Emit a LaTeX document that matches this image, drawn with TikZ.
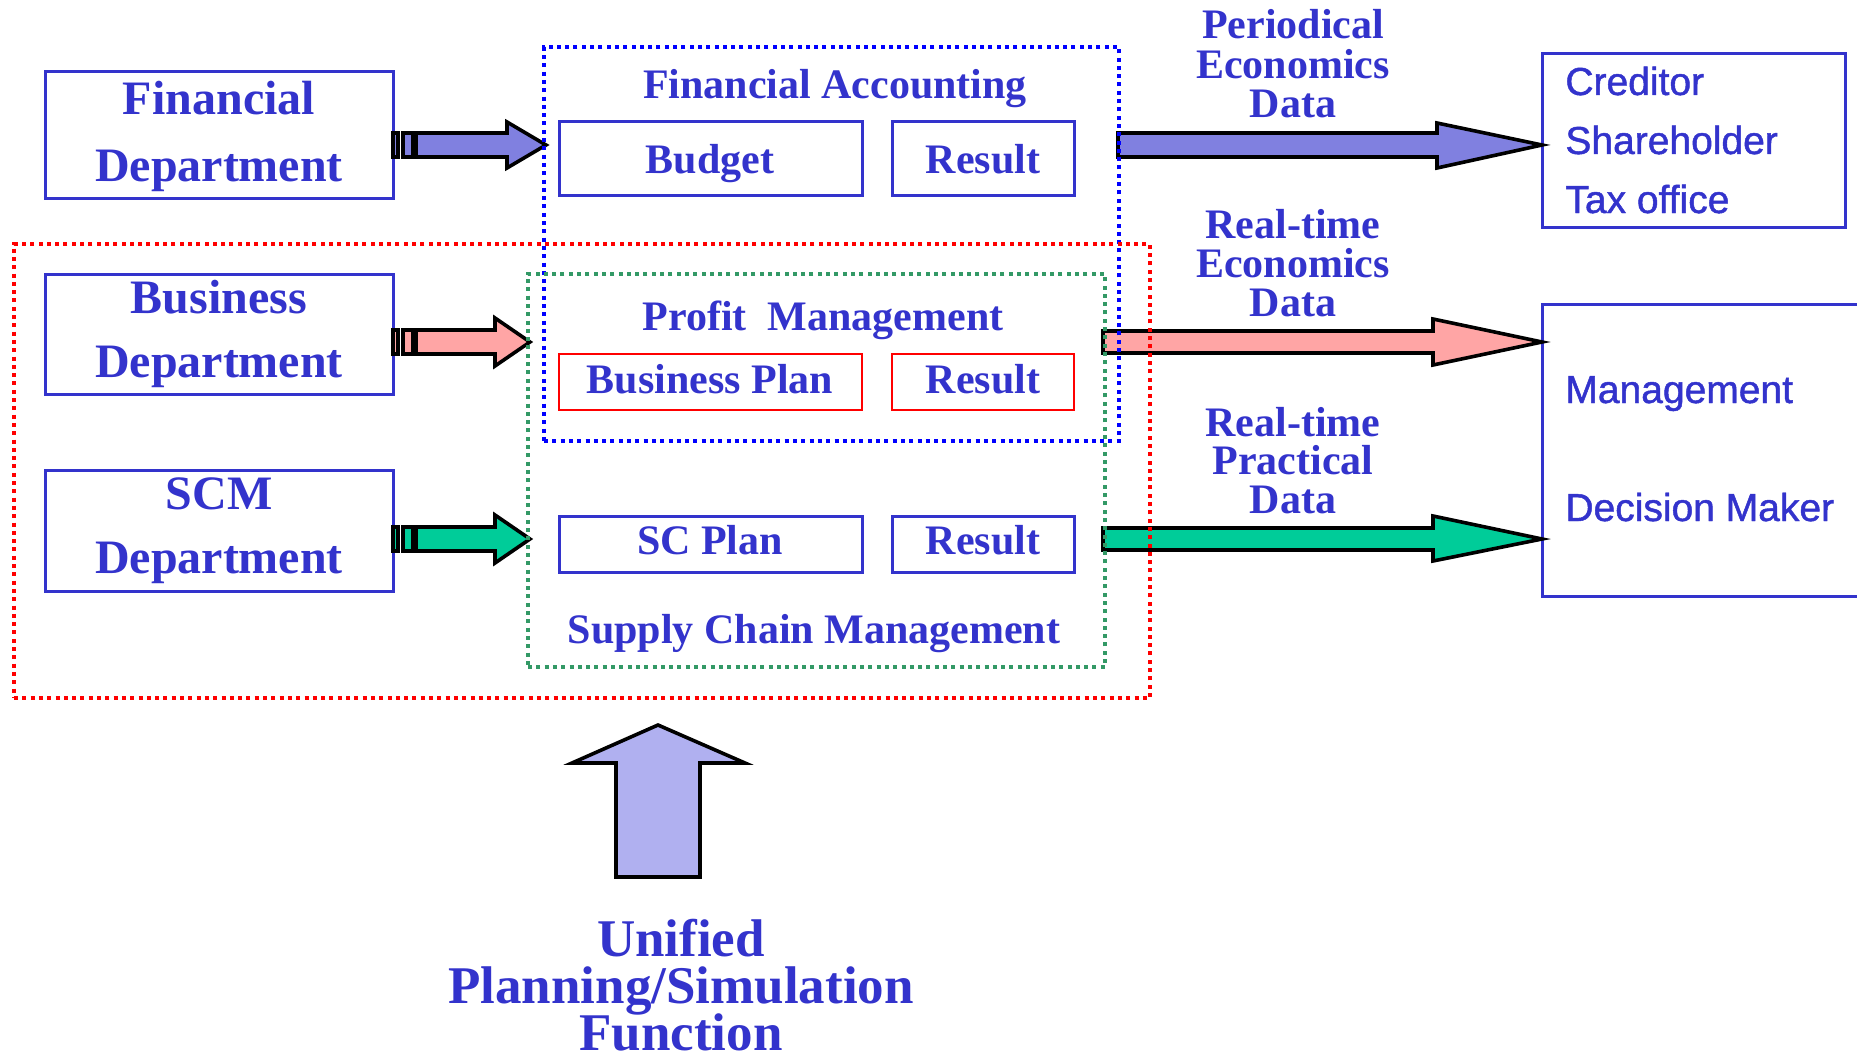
\documentclass[tikz,border=0pt]{standalone}
\usepackage{fontspec}
\setmainfont{Liberation Serif}
\newfontfamily\sansf[FakeBold=1.2]{Liberation Sans}
\usetikzlibrary{fit}
\definecolor{txtblue}{RGB}{51,51,204}
\definecolor{dotblue}{RGB}{0,0,255}
\definecolor{dotred}{RGB}{255,0,0}
\definecolor{dotgreen}{RGB}{51,153,102}
\definecolor{arrblue}{RGB}{128,128,224}
\definecolor{arrpink}{RGB}{255,165,165}
\definecolor{arrgreen}{RGB}{0,204,153}
\definecolor{arrup}{RGB}{176,176,240}
\tikzset{
  box/.style={draw=txtblue, line width=1.5pt, inner sep=0pt},
  redbox/.style={draw=red, line width=1.2pt, inner sep=0pt},
  dotbox/.style={line width=2pt, dash pattern=on 2pt off 2.15pt, inner sep=0pt},
  bigtxt/.style={text=txtblue, font=\fontsize{24}{30}\selectfont\bfseries, anchor=base, inner sep=0pt},
  midtxt/.style={text=txtblue, font=\fontsize{21}{24}\selectfont\bfseries, anchor=base, inner sep=0pt},
  hugetxt/.style={text=txtblue, font=\fontsize{26.5}{30}\selectfont\bfseries, anchor=base, inner sep=0pt},
  sanstxt/.style={text=txtblue, font=\sansf\fontsize{19.5}{24}\selectfont, anchor=base west, inner sep=0pt},
  blockarr/.style={draw=black, line width=1.8pt, line join=miter},
}
\begin{document}
\begin{tikzpicture}[x=0.5pt,y=-0.5pt]
\useasboundingbox (0,0) rectangle (1857,1054);
% left boxes
\node[box, fit={(45,72)(393,198)}] (fin) {};
\node[box, fit={(45,274)(393,394)}] (bus) {};
\node[box, fit={(45,470)(393,591)}] (scm) {};
\node[bigtxt] (fin1) at (219,115) {Financial};
\node[bigtxt] (fin2) at (219,181) {Department};
\node[bigtxt] (bus1) at (219,313) {Business};
\node[bigtxt] (bus2) at (219,377) {Department};
\node[bigtxt] (scm1) at (219,509) {SCM};
\node[bigtxt] (scm2) at (219,573) {Department};
% inner boxes
\node[box, fit={(559,122)(862,195)}] (budget) {};
\node[box, fit={(892,122)(1074,195)}] (res1) {};
\node[redbox, fit={(559,354)(862,410)}] (bplan) {};
\node[redbox, fit={(892,354)(1074,410)}] (res2) {};
\node[box, fit={(559,516)(862,572)}] (scplan) {};
\node[box, fit={(892,516)(1074,572)}] (res3) {};
\node[midtxt] at (710,173) {Budget};
\node[midtxt] at (983,173) {Result};
\node[midtxt] at (710,393) {Business Plan};
\node[midtxt] at (983,393) {Result};
\node[midtxt] at (710,554) {SC Plan};
\node[midtxt] at (983,554) {Result};
\node[midtxt] (fa) at (835,98) {Financial Accounting};
\node[midtxt] (pm) at (823,330) {Profit\ \ Management};
\node[midtxt] (scmt) at (814,643) {Supply Chain Management};
% data labels
\node[midtxt] at (1293,39) {Periodical};
\node[midtxt] at (1293,79) {Economics};
\node[midtxt] at (1293,118) {Data};
\node[midtxt] at (1293,238) {Real-time};
\node[midtxt] at (1293,277) {Economics};
\node[midtxt] at (1293,316) {Data};
\node[midtxt] at (1293,436) {Real-time};
\node[midtxt] at (1293,474) {Practical};
\node[midtxt] at (1293,513) {Data};
% right boxes
\node[box, fit={(1542,54)(1845,227)}] (cred) {};
\node[box, fit={(1542,304)(1870,596)}] (mgmt) {};
\node[sanstxt] at (1565,95) {Creditor};
\node[sanstxt] at (1565,154) {Shareholder};
\node[sanstxt] at (1565,213) {Tax office};
\node[sanstxt] at (1565,403) {Management};
\node[sanstxt] at (1565,521) {Decision Maker};
% left block arrows
\filldraw[blockarr, fill=arrblue] (393,133) rectangle (398,157);
\filldraw[blockarr, fill=arrblue] (403,133) rectangle (413,157);
\filldraw[blockarr, fill=arrblue] (416,133)--(507,133)--(507,122)--(546,145)--(507,168)--(507,157)--(416,157)--cycle;
\filldraw[blockarr, fill=arrpink] (393,330) rectangle (398,354);
\filldraw[blockarr, fill=arrpink] (403,330) rectangle (413,354);
\filldraw[blockarr, fill=arrpink] (416,330)--(495,330)--(495,318)--(530,342)--(495,366)--(495,354)--(416,354)--cycle;
\filldraw[blockarr, fill=arrgreen] (393,527) rectangle (398,551);
\filldraw[blockarr, fill=arrgreen] (403,527) rectangle (413,551);
\filldraw[blockarr, fill=arrgreen] (416,527)--(495,527)--(495,515)--(530,539)--(495,563)--(495,551)--(416,551)--cycle;
% right block arrows
\filldraw[blockarr, fill=arrblue] (1118,133)--(1437,133)--(1437,123)--(1542,145)--(1437,168)--(1437,157)--(1118,157)--cycle;
\filldraw[blockarr, fill=arrpink] (1103,331)--(1433,331)--(1433,319)--(1542,342)--(1433,365)--(1433,353)--(1103,353)--cycle;
\filldraw[blockarr, fill=arrgreen] (1103,528)--(1433,528)--(1433,516)--(1542,539)--(1433,561)--(1433,550)--(1103,550)--cycle;
% up arrow
\filldraw[blockarr, fill=arrup] (616,877)--(616,763)--(572,763)--(658,725)--(745,763)--(700,763)--(700,877)--cycle;
\node[hugetxt] at (681,956) {Unified};
\node[hugetxt] at (681,1003) {Planning/Simulation};
\node[hugetxt] at (681,1050) {Function};
% dotted group boxes
\node[dotbox, draw=dotblue, fit={(544,47)(1119,441)}] (fagrp) {};
\node[dotbox, draw=dotred, fit={(14,244)(1150,698)}] (redgrp) {};
\node[dotbox, draw=dotgreen, fit={(528,274)(1105,667)}] (scgrp) {};
\end{tikzpicture}
\end{document}
